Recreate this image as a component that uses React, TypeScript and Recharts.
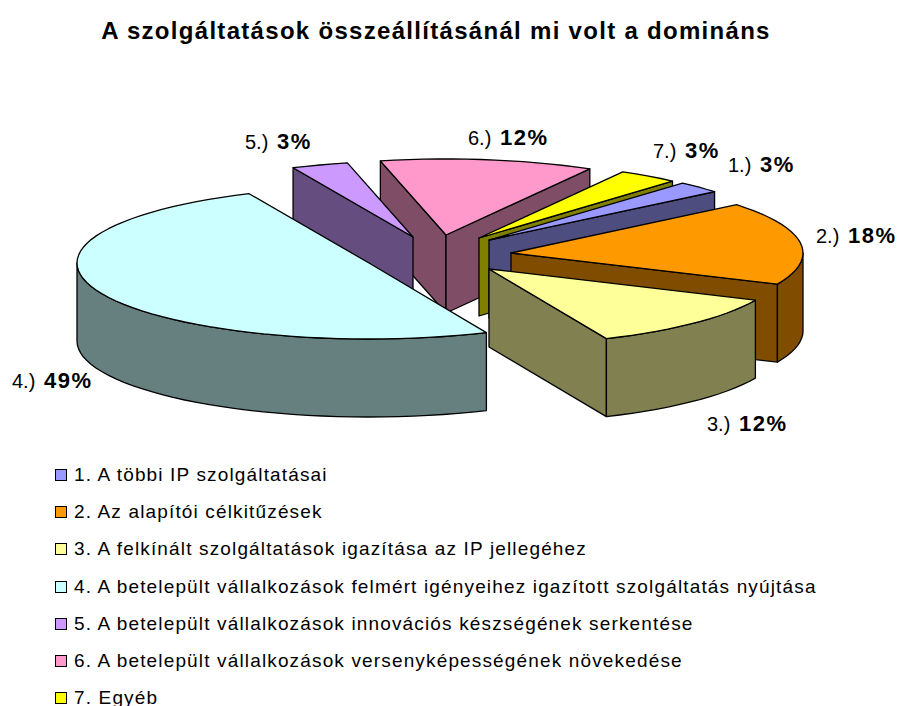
import { PieChart, Pie, Legend } from 'recharts';

const categories = [
  '1. A többi IP szolgáltatásai',
  '2. Az alapítói célkitűzések',
  '3. A felkínált szolgáltatások igazítása az IP jellegéhez',
  '4. A betelepült vállalkozások felmért igényeihez igazított szolgáltatás nyújtása',
  '5. A betelepült vállalkozások innovációs készségének serkentése',
  '6. A betelepült vállalkozások versenyképességének növekedése',
  '7. Egyéb',
];
const sliceLabels = ['1.)', '2.)', '3.)', '4.)', '5.)', '6.)', '7.)'];
// unrounded estimates, the picture prints them rounded to whole percents
const values = [2.5, 17.5, 11.6, 49.4, 3.1, 11.7, 3.3];
const topColors = ['#9999FF', '#FF9900', '#FFFF99', '#CCFFFF', '#CC99FF', '#FF99CC', '#FFFF00'];
const wallColors = ['#4D4D80', '#804D00', '#808050', '#668080', '#664D80', '#804D66', '#808000'];

// back to front, the pie has no z-buffer
const drawOrder = [5, 4, 6, 0, 1, 2, 3];

// layout of the exploded tilted pie
const CX = 440;
const CY = 255;
const RX = 292;
const RY = 76;
const DEPTH = 78;
const apexX = [49, 71, 49, -71, -27, 6, 39];
const apexY = [-15, -2, 14, 8, -18, -20, -17];
const labelX = [728, 816, 707, 12, 245, 468, 653];
const labelY = [172, 243, 431, 388, 149, 145, 158];

const rad = Math.PI / 180;
const tableData = values.map((value, i) => ({ name: categories[i], value, slice: i }));

const arcPoints = (x: number, y: number, from: number, to: number) => {
  // from > to, clockwise on screen
  const pts: string[] = [];
  const n = Math.max(2, Math.ceil((from - to) / 3));
  for (let k = 0; k <= n; k++) {
    const a = (from + ((to - from) * k) / n) * rad;
    pts.push(`${(x + RX * Math.cos(a)).toFixed(1)} ${(y - RY * Math.sin(a)).toFixed(1)}`);
  }
  return pts;
};

// a cut face shows when the slice lies above its edge on screen
const faceVisible = (edge: number, mid: number) =>
  Math.sin(mid * rad) > Math.tan(edge * rad) * Math.cos(mid * rad);

const SliceShape = (props: any, only: number) => {
  const { slice, startAngle, endAngle } = props;
  if (slice !== only) return <g />;
  const x = CX + apexX[slice];
  const y = CY + apexY[slice];
  const mid = (startAngle + endAngle) / 2;
  const top = arcPoints(x, y, startAngle, endAngle);
  const outer = { stroke: '#000', strokeWidth: 1.3, strokeLinejoin: 'round' as const };
  const face = (ang: number) => {
    const ex = x + RX * Math.cos(ang * rad);
    const ey = y - RY * Math.sin(ang * rad);
    return `M${x} ${y} L${ex} ${ey} L${ex} ${ey + DEPTH} L${x} ${y + DEPTH} Z`;
  };
  // only the part of the rim facing the viewer is drawn
  const frontFrom = Math.min(startAngle, 0);
  const frontTo = Math.max(endAngle, -180);
  const hasFront = frontFrom > frontTo;
  const rimTop = hasFront ? arcPoints(x, y, frontFrom, frontTo) : [];
  const rimBottom = rimTop
    .map((p) => {
      const [px, py] = p.split(' ').map(Number);
      return `${px} ${py + DEPTH}`;
    })
    .reverse();
  return (
    <g>
      {faceVisible(startAngle, mid) && <path d={face(startAngle)} fill={wallColors[slice]} {...outer} />}
      {faceVisible(endAngle, mid) && <path d={face(endAngle)} fill={wallColors[slice]} {...outer} />}
      {hasFront && (
        <path d={`M${rimTop.join(' L')} L${rimBottom.join(' L')} Z`} fill={wallColors[slice]} {...outer} />
      )}
      <path d={`M${x} ${y} L${top.join(' L')} Z`} fill={topColors[slice]} {...outer} />
    </g>
  );
};

const SliceLabel = (props: any) => {
  const { slice, value } = props;
  return (
    <text x={labelX[slice]} y={labelY[slice]} fontSize={20} fontFamily="Liberation Sans" fill="#000">
      {sliceLabels[slice]}{' '}
      <tspan dx={3} fontWeight="bold" fontSize={22} letterSpacing={1.5}>
        {Math.round(value)}%
      </tspan>
    </text>
  );
};

const LegendList = () => (
  <div style={{ fontFamily: 'Liberation Sans', fontSize: 19, letterSpacing: 1.15, color: '#000' }}>
    {categories.map((c, i) => (
      <div key={c} style={{ height: 37.3, display: 'flex', alignItems: 'center', whiteSpace: 'nowrap' }}>
        <span
          style={{
            width: 10,
            height: 10,
            background: topColors[i],
            border: '1.5px solid #000',
            marginRight: 7,
            display: 'inline-block',
          }}
        />
        {c}
      </div>
    ))}
  </div>
);

export default function App() {
  return (
    <div style={{ position: 'absolute', left: 0, top: 0, width: 897, height: 706, background: '#fff', overflow: 'hidden' }}>
      <PieChart width={897} height={706} margin={{ top: 0, right: 0, bottom: 0, left: 0 }}>
        <text
          x={436}
          y={39}
          textAnchor="middle"
          fontFamily="Liberation Sans"
          fontWeight="bold"
          fontSize={24}
          letterSpacing={1.3}
          fill="#000"
        >
          A szolgáltatások összeállításánál mi volt a domináns
        </text>
        {drawOrder.map((only, layer) => {
          const shape = (p: any) => SliceShape(p, only);
          return (
            <Pie
              key={only}
              data={tableData}
              dataKey="value"
              nameKey="name"
              cx={CX}
              cy={CY}
              outerRadius={RX}
              startAngle={48.5}
              endAngle={-311.5}
              stroke="none"
              isAnimationActive={false}
              shape={shape}
              activeShape={shape}
              inactiveShape={shape}
              labelLine={false}
              label={layer === drawOrder.length - 1 ? SliceLabel : false}
            />
          );
        })}
        <Legend
          content={LegendList}
          layout="vertical"
          wrapperStyle={{ position: 'absolute', left: 55, top: 456, width: 830, bottom: 'auto' }}
        />
      </PieChart>
    </div>
  );
}
